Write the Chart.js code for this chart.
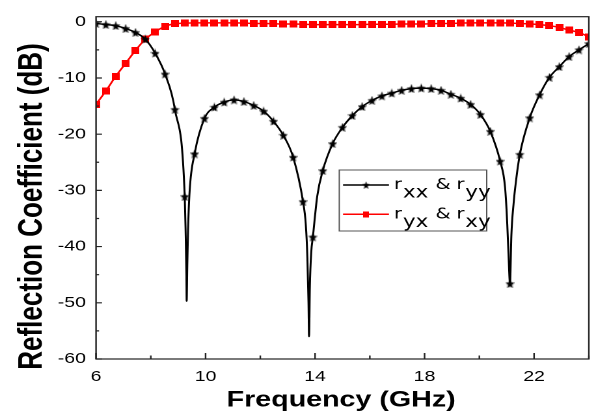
<!DOCTYPE html>
<html>
<head>
<meta charset="utf-8">
<script src="https://cdn.jsdelivr.net/npm/chart.js@4.4.0/dist/chart.umd.min.js"></script>
<style>
  html, body { margin: 0; padding: 0; background: #fff; overflow: hidden; }
  /* the original figure is stretched sideways, so draw narrow and stretch */
  #wrap { width: 458px; height: 413px; transform: scaleX(1.30131); transform-origin: 0 0; }
</style>
</head>
<body>
<div id="wrap"><canvas id="chart" width="458" height="413"></canvas></div>
<script>
// frequencies (GHz) where markers sit
const freq = [6.00, 6.36, 6.72, 7.08, 7.44, 7.80, 8.16, 8.52, 8.88, 9.24,
  9.60, 9.96, 10.32, 10.68, 11.04, 11.40, 11.76, 12.12, 12.48, 12.84,
  13.20, 13.56, 13.92, 14.28, 14.64, 15.00, 15.36, 15.72, 16.08, 16.44,
  16.80, 17.16, 17.52, 17.88, 18.24, 18.60, 18.96, 19.32, 19.68, 20.04,
  20.40, 20.76, 21.12, 21.48, 21.84, 22.20, 22.56, 22.92, 23.28, 23.64, 24.00];

// r_xx & r_yy (dB)
const rxx = [-0.3, -0.5, -0.7, -1.2, -1.9, -3.1, -5.6, -9.3, -15.6, -31.1,
  -23.5, -17.2, -15.2, -14.3, -13.9, -14.2, -14.9, -15.9, -17.7, -20.2,
  -24.1, -32.0, -38.3, -26.5, -21.7, -18.8, -16.7, -15.1, -14.0, -13.2,
  -12.7, -12.2, -11.9, -11.8, -11.9, -12.2, -12.9, -13.6, -14.7, -16.5,
  -19.5, -24.8, -46.6, -23.6, -17.1, -13.0, -9.9, -8.0, -6.2, -5.0, -3.9];

// extra points of r_xx inside the sharp dips (line only, no marker)
const dipFreq = [9.27, 9.30, 9.31, 9.33, 9.36, 9.42,
  13.66, 13.72, 13.76, 13.78, 13.81, 13.86, 14.08,
  20.94, 21.02, 21.07, 21.17, 21.25, 21.34];
const dipVal = [-37, -45, -49.7, -44, -37, -30,
  -36, -42, -50, -56, -47, -41, -31,
  -29.5, -36, -42, -38, -32.4, -28.3];

// r_yx & r_xy (dB)
const ryx = [-14.7, -12.3, -9.7, -7.4, -5.1, -3.1, -1.8, -0.8, -0.35, -0.25,
  -0.2, -0.2, -0.2, -0.2, -0.2, -0.25, -0.3, -0.3, -0.35, -0.4,
  -0.4, -0.45, -0.5, -0.5, -0.5, -0.5, -0.5, -0.5, -0.45, -0.45,
  -0.45, -0.4, -0.4, -0.4, -0.35, -0.3, -0.3, -0.25, -0.2, -0.2,
  -0.2, -0.2, -0.25, -0.3, -0.4, -0.5, -0.7, -1.0, -1.5, -1.9, -2.7];

const xTicks = [6, 10, 14, 18, 22];
const xMinor = [8, 12, 16, 20, 24];
const yTicks = [-60, -50, -40, -30, -20, -10, 0];
const yMinor = [-55, -45, -35, -25, -15, -5];

function makeStar(w, h) {
  const c = document.createElement('canvas');
  c.width = w; c.height = h;
  const g = c.getContext('2d');
  const sx = w / 1.902, sy = h / 1.809;
  g.translate(w / 2, sy);
  g.scale(sx, sy);
  g.beginPath();
  for (let k = 0; k < 10; k++) {
    const r = k % 2 ? 0.45 : 1;
    const a = -Math.PI / 2 + k * Math.PI / 5;
    g.lineTo(r * Math.cos(a), r * Math.sin(a));
  }
  g.closePath();
  g.fillStyle = '#000';
  g.fill();
  return c;
}

function makeSquare(w, h) {
  const c = document.createElement('canvas');
  c.width = w; c.height = h;
  const g = c.getContext('2d');
  g.fillStyle = '#ff0000';
  g.fillRect(0, 0, w, h);
  return c;
}

const star = makeStar(7, 9);
const square = makeSquare(6, 7);

const blackData = freq.map((f, i) => ({ x: f, y: rxx[i], m: true }))
  .concat(dipFreq.map((f, i) => ({ x: f, y: dipVal[i], m: false })))
  .sort((a, b) => a.x - b.x);
const redData = freq.map((f, i) => ({ x: f, y: ryx[i] }));

const tickFont = { family: '"Liberation Sans", Arial, sans-serif', size: 15 };

// inward ticks, frame, axis titles and the legend
const decor = {
  id: 'decor',
  afterDatasetsDraw(chart) {
    const { ctx, chartArea: a, scales: { x, y } } = chart;
    ctx.save();
    ctx.strokeStyle = '#222';
    ctx.lineWidth = 1.2;
    ctx.beginPath();
    xTicks.forEach(v => { const p = x.getPixelForValue(v); ctx.moveTo(p, a.bottom); ctx.lineTo(p, a.bottom - 6); });
    xMinor.forEach(v => { const p = x.getPixelForValue(v); ctx.moveTo(p, a.bottom); ctx.lineTo(p, a.bottom - 3.5); });
    yTicks.forEach(v => { const p = y.getPixelForValue(v); ctx.moveTo(a.left, p); ctx.lineTo(a.left + 4.6, p); });
    yMinor.forEach(v => { const p = y.getPixelForValue(v); ctx.moveTo(a.left, p); ctx.lineTo(a.left + 2.3, p); });
    ctx.stroke();
    ctx.strokeRect(a.left, a.top, a.right - a.left, a.bottom - a.top);
    ctx.restore();
  },
  afterDraw(chart) {
    const { ctx, chartArea: a } = chart;
    ctx.save();
    ctx.fillStyle = '#000';
    ctx.font = 'bold 22px "Liberation Sans", Arial, sans-serif';
    ctx.textAlign = 'center';
    ctx.textBaseline = 'alphabetic';
    ctx.fillText('Frequency (GHz)', (a.left + a.right) / 2 - 1, 406.5);

    ctx.save();
    ctx.translate(32, 206.5);
    ctx.rotate(-Math.PI / 2);
    ctx.font = 'bold 26px "Liberation Sans", Arial, sans-serif';
    ctx.fillText('Reflection Coefficient (dB)', 0, 0);
    ctx.restore();

    // legend
    const bx = 260.7, by = 170, bw = 113.3, bh = 61;
    ctx.fillStyle = '#fff';
    ctx.fillRect(bx, by, bw, bh);
    ctx.strokeStyle = '#555';
    ctx.lineWidth = 1;
    ctx.strokeRect(bx, by, bw, bh);

    const rows = [
      { y: 185, color: '#000', img: star, iw: 5.5, ih: 7.5, a: 'xx', b: 'yy' },
      { y: 214.3, color: '#ff0000', img: square, iw: 4.8, ih: 6, a: 'yx', b: 'xy' }
    ];
    ctx.textAlign = 'left';
    rows.forEach(r => {
      ctx.strokeStyle = r.color;
      ctx.lineWidth = 1.5;
      ctx.beginPath();
      ctx.moveTo(263.6, r.y);
      ctx.lineTo(298.9, r.y);
      ctx.stroke();
      ctx.drawImage(r.img, 281.3 - r.iw / 2, r.y - r.ih / 2, r.iw, r.ih);

      const main = '15px "DejaVu Sans", Verdana, sans-serif';
      const sub = '16.5px "DejaVu Sans", Verdana, sans-serif';
      const base = r.y + 4.2;
      let tx = 302.8;
      ctx.fillStyle = '#000';
      ctx.font = main; ctx.fillText('r', tx, base); tx += ctx.measureText('r').width + 0.6;
      ctx.font = sub; ctx.fillText(r.a, tx, base + 8.5); tx += ctx.measureText(r.a).width + 5.5;
      ctx.font = main; ctx.fillText('&', tx, base); tx += ctx.measureText('&').width + 4.5;
      ctx.fillText('r', tx, base); tx += ctx.measureText('r').width + 0.6;
      ctx.font = sub; ctx.fillText(r.b, tx, base + 8.5);
    });
    ctx.restore();
  }
};

new Chart(document.getElementById('chart').getContext('2d'), {
  type: 'line',
  data: {
    datasets: [{
      label: 'rxx & ryy',
      data: blackData,
      borderColor: '#000',
      backgroundColor: '#000',
      borderWidth: 1.5,
      cubicInterpolationMode: 'monotone',
      pointStyle: star,
      pointRadius: ctx => (ctx.raw && ctx.raw.m) ? 4 : 0
    }, {
      label: 'ryx & rxy',
      data: redData,
      borderColor: '#ff0000',
      backgroundColor: '#ff0000',
      borderWidth: 1.5,
      cubicInterpolationMode: 'monotone',
      pointStyle: square,
      pointRadius: 4
    }]
  },
  options: {
    responsive: false,
    animation: false,
    devicePixelRatio: 2,
    layout: { padding: { left: 0, top: 15, right: 3.8, bottom: 0 } },
    plugins: { legend: { display: false }, tooltip: { enabled: false } },
    scales: {
      x: {
        type: 'linear',
        min: 6,
        max: 24,
        afterBuildTicks: s => { s.ticks = xTicks.map(v => ({ value: v })); },
        afterFit: s => { s.height = 54; },
        grid: { display: false, drawTicks: false },
        border: { display: false },
        ticks: { font: tickFont, color: '#000', padding: 9, maxRotation: 0, autoSkip: false }
      },
      y: {
        type: 'linear',
        min: -60,
        max: 0.9,
        afterBuildTicks: s => { s.ticks = yTicks.map(v => ({ value: v })); },
        afterFit: s => { s.width = 73.8; },
        grid: { display: false, drawTicks: false },
        border: { display: false },
        ticks: { font: tickFont, color: '#000', padding: 7.7, autoSkip: false }
      }
    }
  },
  plugins: [decor]
});
</script>
</body>
</html>
